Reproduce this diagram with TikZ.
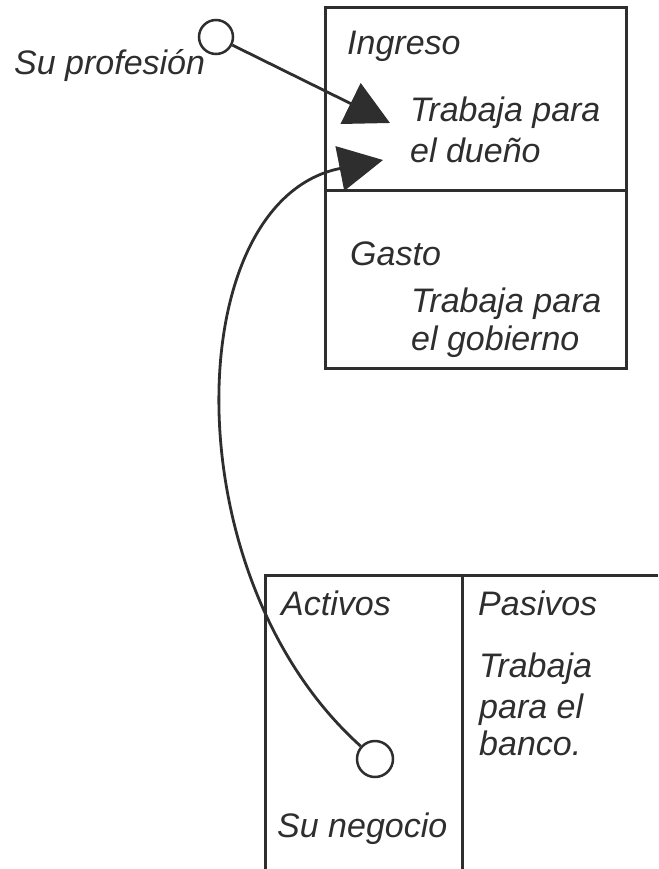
\documentclass[tikz,border=0pt]{standalone}
\usepackage{fontspec}
\setmainfont{Liberation Sans}
\usetikzlibrary{arrows.meta}

\definecolor{ink}{HTML}{2E2E2E}

\tikzstyle{box} = [rectangle, draw=ink, line width=3pt, inner sep=0pt]
\tikzstyle{lbl} = [anchor=base west, inner sep=0pt, text=ink, font=\fontsize{34}{40}\selectfont\itshape]
\tikzstyle{dot} = [circle, draw=ink, line width=2.5pt, inner sep=0pt, minimum size=34pt, fill=white]
\tikzstyle{arrow} = [draw=ink, line width=2.8pt, -{Triangle[length=44pt,width=45pt]}]

\begin{document}
\begin{tikzpicture}[x=1pt,y=-1pt]
\useasboundingbox (0,0) rectangle (658,869);

% income statement
\node (ingresoBox) [box, minimum width=301pt, minimum height=182pt] at (475.5,99) {};
\node (gastoBox) [box, minimum width=301pt, minimum height=178pt] at (475.5,279) {};

\node (ingreso) [lbl] at (347,55) {Ingreso};
\node (duenoA) [lbl] at (410,122) {Trabaja para};
\node (duenoB) [lbl] at (410,163) {el dueño};
\node (gasto) [lbl] at (350,265) {Gasto};
\node (gobA) [lbl] at (411,312) {Trabaja para};
\node (gobB) [lbl] at (411,350) {el gobierno};

% balance sheet (cut off at the right and bottom)
\draw [draw=ink, line width=3pt] (265,869) |- (658,575);
\draw [draw=ink, line width=3pt] (462,575) -- (462,869);

\node (activos) [lbl] at (281,615) {Activos};
\node (pasivos) [lbl] at (478,615) {Pasivos};
\node (bancoA) [lbl] at (479,677) {Trabaja};
\node (bancoB) [lbl] at (479,718) {para el};
\node (bancoC) [lbl] at (479,755) {banco.};
\node (negocio) [lbl] at (277,837) {Su negocio};

% sources
\node (profesion) [lbl] at (14,75) {Su profesión};
\node (profDot) [dot] at (216,37) {};
\node (negDot) [dot, minimum size=36pt] at (375,759) {};

\coordinate (tipA) at (390,123);
\coordinate (tipB) at (383,160);

\draw [arrow] (profDot) -- (tipA);
\draw [arrow] (negDot) .. controls (170,575) and (180,200) .. (tipB);
\end{tikzpicture}
\end{document}
